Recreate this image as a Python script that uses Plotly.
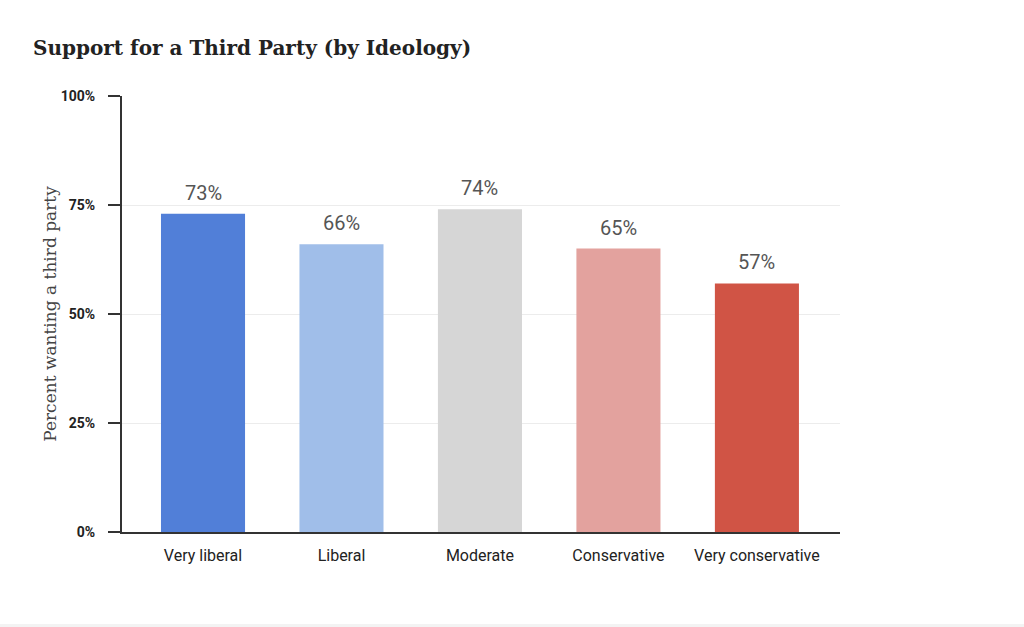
import plotly.graph_objects as go

categories = ["Very liberal", "Liberal", "Moderate", "Conservative", "Very conservative"]
values = [73, 66, 74, 65, 57]
labels = ["73%", "66%", "74%", "65%", "57%"]
colors = ["#517fd8", "#a0bee9", "#d6d6d6", "#e3a29e", "#d05445"]
y_ticks = [0, 25, 50, 75, 100]
y_tick_text = ["0%", "25%", "50%", "75%", "100%"]

fig = go.Figure(go.Bar(
    x=categories, y=values, marker=dict(color=colors, line=dict(width=0)),
    width=0.607, hoverinfo="skip",
))
for c, v, t in zip(categories, values, labels):
    fig.add_annotation(x=c, y=v, text=t, showarrow=False, yanchor="middle", yshift=21,
                       font=dict(family="Roboto", size=20, color="#555555"))

fig.update_layout(
    width=1024, height=627,
    margin=dict(l=122, r=184, t=96, b=95),
    paper_bgcolor="white", plot_bgcolor="white",
    showlegend=False,
    title=dict(text="<b>Support for a Third Party (by Ideology)</b>",
               font=dict(family="DejaVu Serif", size=20, color="#222222"),
               x=33/1024, xanchor="left", y=1-48/627, yanchor="middle"),
)
fig.update_xaxes(
    range=[-0.585, 4.6], showgrid=False, showline=True, linecolor="#333333", linewidth=2,
    ticks="", tickfont=dict(family="Roboto", size=16, color="#222222"),
    ticklabelstandoff=8,
)
fig.update_yaxes(
    range=[0, 100], tickvals=y_ticks, ticktext=y_tick_text,
    showgrid=True, gridcolor="#ececec", gridwidth=1,
    showline=True, linecolor="#333333", linewidth=2,
    ticks="outside", ticklen=12, tickwidth=2, tickcolor="#333333",
    tickfont=dict(family="Roboto", size=14, color="#222222", weight="bold"),
    ticklabelstandoff=10, zeroline=False,
    title=dict(text="Percent wanting a third party",
               font=dict(family="DejaVu Serif", size=17, color="#444444"), standoff=0),
)
fig.add_shape(type="rect", xref="paper", yref="paper", x0=-122/718, x1=1+184/718,
              y0=-95/436, y1=-92/436, fillcolor="#f3f3f3", line=dict(width=0), layer="below")

fig.write_html("out.html")
